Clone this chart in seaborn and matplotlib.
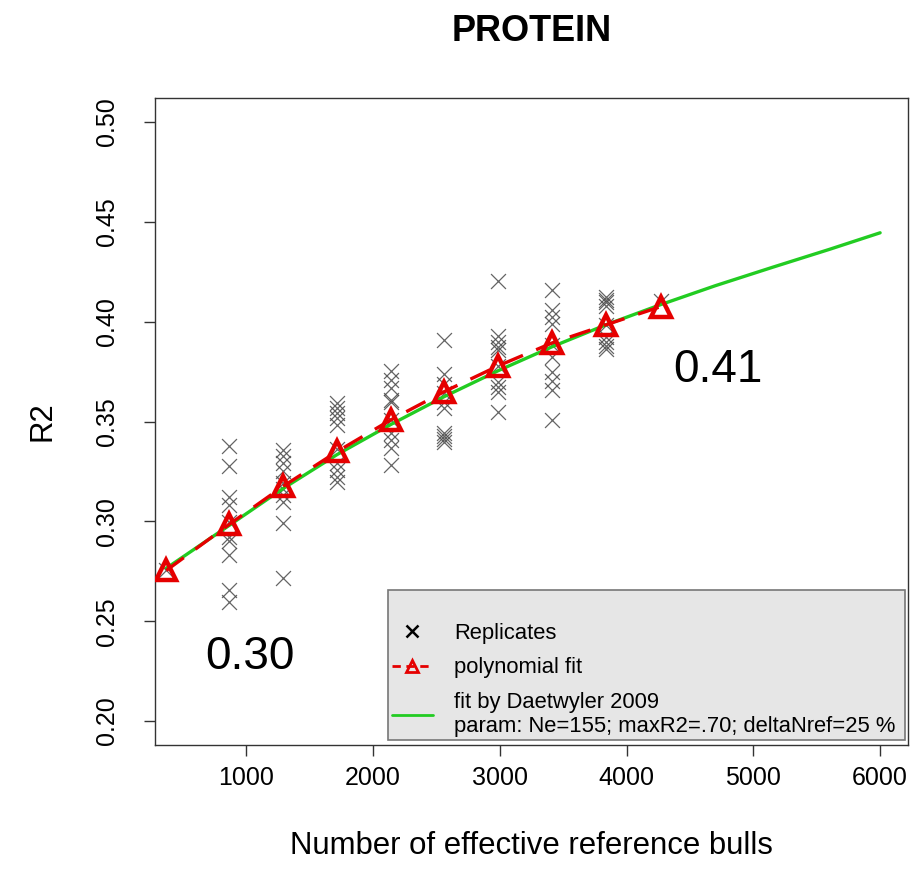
import numpy as np
import pandas as pd
import matplotlib
matplotlib.use("Agg")
import matplotlib.pyplot as plt
from matplotlib.lines import Line2D
from matplotlib.patches import Rectangle
import seaborn as sns

# ---------------- data ----------------
nref_levels = [369, 866, 1292, 1718, 2140, 2563, 2989, 3415, 3841, 4268]

rep_369 = [0.2755]
rep_866 = [0.3375, 0.3275, 0.3122, 0.3082, 0.2995, 0.2923, 0.2900, 0.2831, 0.2655, 0.2596]
rep_1292 = [0.3358, 0.3325, 0.3290, 0.3250, 0.3190, 0.3160, 0.3132, 0.3099, 0.2990, 0.2714]
rep_1718 = [0.3593, 0.3568, 0.3543, 0.3518, 0.3484, 0.3360, 0.3291, 0.3258, 0.3224, 0.3199]
rep_2140 = [0.3752, 0.3710, 0.3668, 0.3610, 0.3600, 0.3509, 0.3442, 0.3409, 0.3367, 0.3283]
rep_2563 = [0.3910, 0.3740, 0.3690, 0.3645, 0.3600, 0.3570, 0.3440, 0.3425, 0.3410, 0.3395]
rep_2989 = [0.4204, 0.3930, 0.3900, 0.3875, 0.3860, 0.3780, 0.3700, 0.3675, 0.3650, 0.3550]
rep_3415 = [0.4158, 0.4058, 0.4025, 0.3990, 0.3885, 0.3823, 0.3748, 0.3705, 0.3660, 0.3509]
rep_3841 = [0.4125, 0.4110, 0.4100, 0.4080, 0.3985, 0.3925, 0.3900, 0.3880, 0.3865]
rep_4268 = [0.4104]

poly_fit = [0.2754, 0.2985, 0.3176, 0.3350, 0.3508, 0.3650, 0.3779, 0.3894, 0.3985, 0.4075]

daet_n = [369, 866, 1292, 1718, 2140, 2563, 2989, 3415, 3841, 4268, 4700, 5150, 5600, 6000]
daet_r2 = [0.2765, 0.2980, 0.3165, 0.3335, 0.3485, 0.3625, 0.3755, 0.3875, 0.3985, 0.4085,
           0.4180, 0.4272, 0.4362, 0.4445]

x_ticks = [1000, 2000, 3000, 4000, 5000, 6000]
y_ticks = [0.20, 0.25, 0.30, 0.35, 0.40, 0.45, 0.50]
y_tick_labels = ["0.20", "0.25", "0.30", "0.35", "0.40", "0.45", "0.50"]

title = "PROTEIN"
xlabel = "Number of effective reference bulls"
ylabel = "R2"
legend_labels = ["Replicates", "polynomial fit",
                 "fit by Daetwyler 2009\nparam: Ne=155; maxR2=.70; deltaNref=25 %"]
annot_low = "0.30"
annot_high = "0.41"

# ---------------- frames ----------------
reps = [rep_369, rep_866, rep_1292, rep_1718, rep_2140, rep_2563, rep_2989,
        rep_3415, rep_3841, rep_4268]
rep_df = pd.DataFrame({
    "Nref": [n for n, r in zip(nref_levels, reps) for _ in r],
    "R2": [v for r in reps for v in r],
})
poly_df = pd.DataFrame({"Nref": nref_levels, "R2": poly_fit})
daet_df = pd.DataFrame({"Nref": daet_n, "R2": daet_r2})

# ---------------- style ----------------
sns.set_style("ticks")
plt.rcParams["font.family"] = ["Liberation Sans", "DejaVu Sans"]
plt.rcParams["text.color"] = "black"
plt.rcParams["axes.labelcolor"] = "black"

fig = plt.figure(figsize=(9.18, 8.90), dpi=100)
ax = fig.add_axes([155 / 918, 1 - 745 / 890, (908 - 155) / 918, (745 - 98) / 890])

red = "#E50000"
green = "#22CC22"
cross_col = "#4a4a4a"

sns.scatterplot(data=rep_df, x="Nref", y="R2", ax=ax, marker="x", s=115,
                color=cross_col, linewidth=0.9, alpha=0.85, zorder=2, legend=False)
sns.lineplot(data=daet_df, x="Nref", y="R2", ax=ax, color=green, linewidth=2.4,
             zorder=3, legend=False)
sns.lineplot(data=poly_df, x="Nref", y="R2", ax=ax, color=red, linewidth=2.4,
             linestyle=(0, (6.5, 4.3)), marker="^", markersize=15,
             markerfacecolor="none", markeredgecolor=red, markeredgewidth=3.2,
             zorder=4, legend=False)

ax.set_xlim(280, 6220)
ax.set_ylim(0.188, 0.512)
ax.set_xticks(x_ticks)
ax.set_xticklabels([str(t) for t in x_ticks])
ax.set_yticks(y_ticks)
ax.set_yticklabels(y_tick_labels)
ax.tick_params(axis="both", direction="out", length=8, width=1, colors="#333333",
               labelsize=18, labelcolor="black")
ax.tick_params(axis="x", pad=7)
ax.tick_params(axis="y", labelrotation=90, pad=18)
for lab in ax.get_yticklabels():
    lab.set_va("center")
for sp in ax.spines.values():
    sp.set_visible(True)
    sp.set_color("#333333")
    sp.set_linewidth(1.0)

ax.set_xlabel(xlabel, fontsize=22.4, labelpad=30)
ax.set_ylabel(ylabel, fontsize=22.4, labelpad=27)
ax.set_title(title, fontsize=26, fontweight="bold", pad=41)

ax.text(1029, 0.232, annot_low, fontsize=33, ha="center", va="center")
ax.text(4720, 0.3758, annot_high, fontsize=33, ha="center", va="center")

# legend box
box = Rectangle((0.309, 0.008), 0.687, 0.232, transform=ax.transAxes,
                facecolor="#E6E6E6", edgecolor="#777777", linewidth=1.2, zorder=5)
ax.add_patch(box)
handles = [
    Line2D([], [], linestyle="none", marker="x", color="black", markersize=9,
           markeredgewidth=1.8),
    Line2D([], [], color=red, linewidth=2.0, linestyle=(0, (3, 2)), marker="^",
           markersize=9, markerfacecolor="none", markeredgecolor=red, markeredgewidth=2),
    Line2D([], [], color=green, linewidth=2.0),
]
leg = ax.legend(handles, legend_labels, loc="upper left",
                bbox_to_anchor=(0.303, 0.2025), frameon=False, fontsize=15.8,
                handlelength=1.85, handletextpad=1.0, labelspacing=0.62,
                borderaxespad=0, numpoints=1)
leg.set_zorder(6)

fig.savefig("out.png", dpi=100, facecolor="white")
